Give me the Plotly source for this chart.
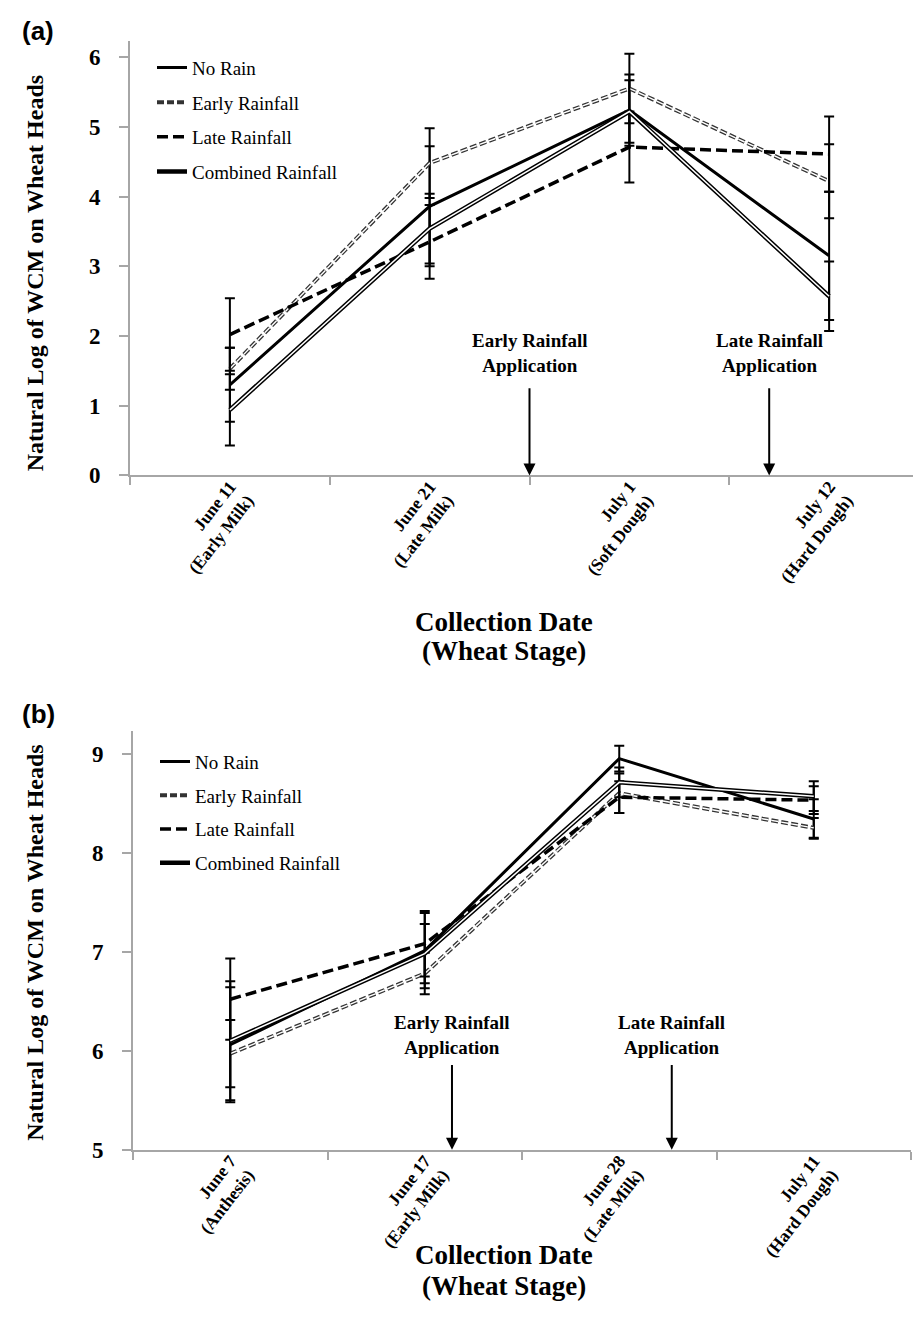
import plotly.graph_objects as go

# ---------------- data ----------------
series_names = ["No Rain", "Early Rainfall", "Late Rainfall", "Combined Rainfall"]

cats_a = ["June 11<br>(Early Milk)", "June 21<br>(Late Milk)", "July 1<br>(Soft Dough)", "July 12<br>(Hard Dough)"]
no_rain_a = [1.30, 3.86, 5.24, 3.15]
no_rain_a_err = [0.53, 0.86, 0.51, 0.92]
early_a = [1.53, 4.48, 5.55, 4.22]
early_a_err = [0.30, 0.50, 0.50, 0.53]
late_a = [2.02, 3.35, 4.71, 4.61]
late_a_err = [0.52, 0.53, 0.51, 0.54]
comb_a = [0.94, 3.54, 5.22, 2.57]
comb_a_err = [0.51, 0.50, 0.45, 0.50]

cats_b = ["June 7<br>(Anthesis)", "June 17<br>(Early Milk)", "June 28<br>(Late Milk)", "July 11<br>(Hard Dough)"]
no_rain_b = [6.06, 7.01, 8.95, 8.34]
no_rain_b_err = [0.58, 0.38, 0.13, 0.20]
early_b = [5.97, 6.78, 8.60, 8.25]
early_b_err = [0.34, 0.21, 0.20, 0.10]
late_b = [6.52, 7.08, 8.56, 8.53]
late_b_err = [0.41, 0.33, 0.16, 0.14]
comb_b = [6.10, 6.98, 8.71, 8.57]
comb_b_err = [0.60, 0.30, 0.15, 0.15]

# rainfall application positions (category index units)
rain_events_a = [1.5, 2.70]
rain_events_b = [1.14, 2.27]
rain_labels = ["Early Rainfall<br>Application", "Late Rainfall<br>Application"]

SERIF = "Liberation Serif"
GRAY = "#a6a6a6"

fig = go.Figure()


def add_panel(xa, ya, legend, vals):
    xs = list(range(4))
    (nr, nre), (er, ere), (lr, lre), (cr, cre) = vals
    def eb(arr):
        return dict(type="data", array=arr, visible=True, color="black", thickness=2, width=5)
    # No rain: solid
    fig.add_trace(go.Scatter(x=xs, y=nr, mode="lines", name=series_names[0], xaxis=xa, yaxis=ya,
                             legend=legend, legendgroup=legend + "g0",
                             line=dict(color="black", width=3), error_y=eb(nre)))
    # Early rainfall: outlined short dashes
    fig.add_trace(go.Scatter(x=xs, y=er, mode="lines", name=series_names[1], xaxis=xa, yaxis=ya,
                             legend=legend, legendgroup=legend + "g1",
                             line=dict(color="#333333", width=4, dash="7px,3px"), error_y=eb(ere)))
    fig.add_trace(go.Scatter(x=xs, y=er, mode="lines", showlegend=False, xaxis=xa, yaxis=ya,
                             legendgroup=legend + "g1", hoverinfo="skip",
                             line=dict(color="white", width=1.4, dash="7px,3px")))
    # Late rainfall: black dashes
    fig.add_trace(go.Scatter(x=xs, y=lr, mode="lines", name=series_names[2], xaxis=xa, yaxis=ya,
                             legend=legend, legendgroup=legend + "g2",
                             line=dict(color="black", width=3.5, dash="11px,5px"), error_y=eb(lre)))
    # Combined: double line
    fig.add_trace(go.Scatter(x=xs, y=cr, mode="lines", name=series_names[3], xaxis=xa, yaxis=ya,
                             legend=legend, legendgroup=legend + "g3",
                             line=dict(color="black", width=4.5), error_y=eb(cre)))
    fig.add_trace(go.Scatter(x=xs, y=cr, mode="lines", showlegend=False, xaxis=xa, yaxis=ya,
                             legendgroup=legend + "g3", hoverinfo="skip",
                             line=dict(color="white", width=1.5)))


add_panel("x", "y", "legend", [(no_rain_a, no_rain_a_err), (early_a, early_a_err),
                               (late_a, late_a_err), (comb_a, comb_a_err)])
add_panel("x2", "y2", "legend2", [(no_rain_b, no_rain_b_err), (early_b, early_b_err),
                                  (late_b, late_b_err), (comb_b, comb_b_err)])

W, H = 921, 1327


def xaxis(domain, anchor, labels):
    return dict(domain=domain, anchor=anchor, range=[-0.5, 3.5],
                tickmode="array", tickvals=list(range(4)), ticktext=["<b>%s</b>" % t for t in labels],
                ticks="", tickangle=-52, tickfont=dict(family=SERIF, size=17.5, color="black"),
                ticklabelstandoff=-8,
                showline=True, linecolor=GRAY, linewidth=2, showgrid=False, zeroline=False,
                minor=dict(tickmode="array", tickvals=[-0.5, 0.5, 1.5, 2.5, 3.5], ticks="outside",
                           ticklen=8, tickcolor=GRAY, tickwidth=1.5, showgrid=False))


def yaxis(domain, anchor, rng, dtick):
    return dict(domain=domain, anchor=anchor, range=rng, dtick=dtick, tick0=0,
                ticks="outside", ticklen=9, tickcolor=GRAY, tickwidth=1.5,
                tickfont=dict(family=SERIF, size=23, color="black", weight="bold"),
                ticklabelstandoff=14,
                showline=True, linecolor=GRAY, linewidth=2, showgrid=False, zeroline=False)


fig.update_layout(
    width=W, height=H, margin=dict(l=0, r=0, t=0, b=0),
    font=dict(family=SERIF, color="black"),
    paper_bgcolor="white", plot_bgcolor="white",
    xaxis=xaxis([122 / W, 1.0], "y", cats_a),
    yaxis=yaxis([(H - 472) / H, (H - 33) / H], "x", [0, 6.236], 1),
    xaxis2=xaxis([125 / W, 903 / W], "y2", cats_b),
    yaxis2=yaxis([(H - 1153) / H, (H - 730) / H], "x2", [5, 9.23], 1),
    legend=dict(x=144 / W, y=(H - 41) / H, xanchor="left", yanchor="top", xref="paper", yref="paper",
                font=dict(family=SERIF, size=19, color="black"), traceorder="grouped",
                tracegroupgap=7, bgcolor="rgba(0,0,0,0)"),
    legend2=dict(x=147 / W, y=(H - 742) / H, xanchor="left", yanchor="top", xref="paper", yref="paper",
                 font=dict(family=SERIF, size=19, color="black"), traceorder="grouped",
                 tracegroupgap=6, bgcolor="rgba(0,0,0,0)"),
    showlegend=True,
)

ann = []
# panel letters
ann.append(dict(text="<b>(a)</b>", x=12 / W, y=(H - 23) / H, xref="paper", yref="paper", showarrow=False,
                xanchor="left", yanchor="middle", font=dict(family="Liberation Sans", size=26, color="black")))
ann.append(dict(text="<b>(b)</b>", x=12 / W, y=(H - 713) / H, xref="paper", yref="paper", showarrow=False,
                xanchor="left", yanchor="middle", font=dict(family="Liberation Sans", size=26, color="black")))
# y titles
for yc in [268, 944]:
    ann.append(dict(text="<b>Natural Log of WCM on Wheat Heads</b>", x=27 / W, y=(H - yc) / H,
                    xref="paper", yref="paper", showarrow=False, textangle=-90,
                    xanchor="center", yanchor="middle", font=dict(family=SERIF, size=24, color="black")))
# x titles (two lines each)
for xc, y1, y2 in [(496, 620, 649), (496, 1259, 1291)]:
    for txt, yc in [("Collection Date", y1), ("(Wheat Stage)", y2)]:
        ann.append(dict(text="<b>%s</b>" % txt, x=xc / W, y=(H - yc) / H,
                        xref="paper", yref="paper", showarrow=False, xanchor="center", yanchor="middle",
                        font=dict(family=SERIF, size=27, color="black")))

# rainfall application arrows + labels
for (xr, yr, events, ybase, ytop, ytext) in [("x", "y", rain_events_a, 0, 1.27, 1.40),
                                             ("x2", "y2", rain_events_b, 5, 5.87, 5.91)]:
    for ev, lab in zip(events, rain_labels):
        ann.append(dict(text="", x=ev, y=ybase, ax=ev, ay=ytop, xref=xr, yref=yr, axref=xr, ayref=yr,
                        showarrow=True, arrowhead=2, arrowsize=1.2, arrowwidth=2, arrowcolor="black"))
        ann.append(dict(text="<b>%s</b>" % lab, x=ev, y=ytext, xref=xr, yref=yr, showarrow=False,
                        xanchor="center", yanchor="bottom",
                        font=dict(family=SERIF, size=19, color="black")))

fig.update_layout(annotations=ann)

fig.write_html("out.html")
